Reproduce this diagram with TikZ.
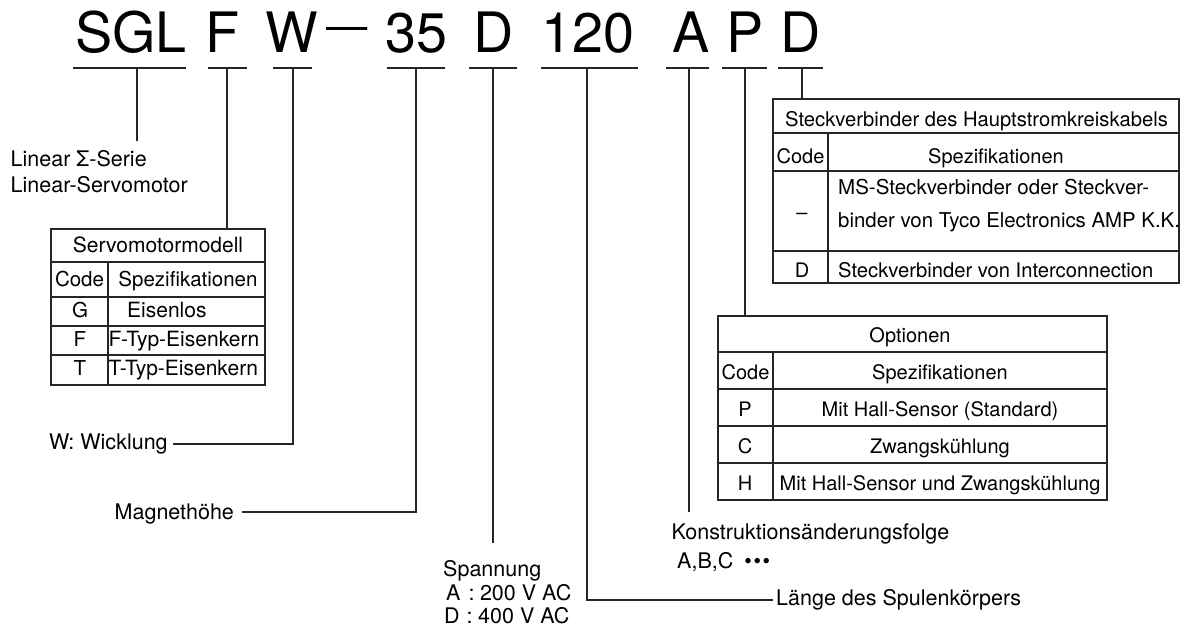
\documentclass[tikz,border=0pt]{standalone}
\usepackage{fontspec}
\setmainfont{TeX Gyre Heros}
\usepackage{graphicx}
\begin{document}
\begin{tikzpicture}[x=1pt,y=-1pt,
  ttl/.style={font=\fontsize{55.7pt}{60pt}\selectfont, inner sep=0pt, anchor=base},
  tb/.style={font=\fontsize{20pt}{24pt}\selectfont, inner sep=0pt, anchor=base},
  tbw/.style={tb, anchor=base west},
  tbl/.style={font=\fontsize{21pt}{25pt}\selectfont},
  tbm/.style={font=\fontsize{20.5pt}{25pt}\selectfont},
  lbl/.style={font=\fontsize{21.5pt}{25pt}\selectfont, inner sep=0pt, anchor=base west},
  ln/.style={line width=1.1pt, draw=black!85}]
\useasboundingbox (0,0) rectangle (1180,628);

% ---------- title ----------
\node[ttl] (cSGL) at (131,53) {SGL};
\node[ttl] (cF)   at (223,53) {F};
\node[ttl] (cW)   at (292,53) {W};
\node[ttl] (cdash) at (347.5,53) {\raisebox{12.5pt}{\scalebox{0.74}[0.75]{—}}};
\node[ttl] (c35)  at (416,53) {35};
\node[ttl] (cD)   at (494,53) {D};
\node[ttl] (c120) at (588,53) {120};
\node[ttl] (cA)   at (691,53) {A};
\node[ttl] (cP)   at (745,53) {P};
\node[ttl] (cD2)  at (801,53) {D};

% ---------- underlines and their tick points ----------
\coordinate (uSGL) at (137,68);
\coordinate (uF)   at (227,68);
\coordinate (uW)   at (293,68);
\coordinate (u35)  at (416,68);
\coordinate (uD)   at (493,68);
\coordinate (u120) at (587,68);
\coordinate (uA)   at (689,68);
\coordinate (uP)   at (745,68);
\coordinate (uD2)  at (802,68);
\draw[ln] (73,68) -- (186,68);
\draw[ln] (208,68) -- (247,68);
\draw[ln] (273,68) -- (312,68);
\draw[ln] (387,68) -- (445,68);
\draw[ln] (469,68) -- (517,68);
\draw[ln] (541,68) -- (638,68);
\draw[ln] (666,68) -- (709,68);
\draw[ln] (722,68) -- (767,68);
\draw[ln] (778,68) -- (823,68);

% ---------- Linear Sigma ----------
\coordinate (eSGL) at (137,141);
\draw[ln] (uSGL) -- (eSGL);
\node[lbl] (lin1) at (10.5,167) {Linear Σ-Serie};
\node[lbl] (lin2) at (10.5,193) {Linear-Servomotor};

% ---------- Servomotormodell table ----------
\coordinate (tabFtop) at (227,229);
\draw[ln] (uF) -- (tabFtop);
\draw[ln] (51,229) rectangle (265,385);
\draw[ln] (51,262) -- (265,262);
\draw[ln] (51,297) -- (265,297);
\draw[ln] (51,326) -- (265,326);
\draw[ln] (51,355) -- (265,355);
\draw[ln] (108,262) -- (108,385);
\node[tb,tbl] (smh) at (158,253) {Servomotormodell};
\node[tb,tbm] (smc) at (79.5,287) {Code};
\node[tb,tbm] (sms) at (188,287) {Spezifikationen};
\node[tb,tbm] (smG) at (80,317) {G};
\node[tbw,tbl] (smGt) at (127,317) {Eisenlos};
\node[tb,tbm] (smF) at (80,346) {F};
\node[tbw,tbl] (smFt) at (108.3,346) {F-Typ-Eisenkern};
\node[tb,tbm] (smT) at (80,375) {T};
\node[tbw,tbl] (smTt) at (108.3,375) {T-Typ-Eisenkern};

% ---------- W: Wicklung ----------
\node[lbl] (wick) at (49,449) {W: Wicklung};
\coordinate (wc) at (293,444);
\coordinate (we) at (173,444);
\draw[ln] (uW) -- (wc) -- (we);

% ---------- Magnethoehe ----------
\node[lbl] (mag) at (114.5,519) {Magnethöhe};
\coordinate (mc) at (416,512);
\coordinate (me) at (242,512);
\draw[ln] (u35) -- (mc) -- (me);

% ---------- Spannung ----------
\coordinate (sEnd) at (493,543);
\draw[ln] (uD) -- (sEnd);
\node[lbl] (sp1) at (443,576) {Spannung};
\node[lbl] (sp2) at (446,600) {A\hspace{8pt}:\hspace{5.5pt}200 V AC};
\node[lbl] (sp3) at (444,623) {D\hspace{7pt}:\hspace{5.5pt}400 V AC};

% ---------- Laenge ----------
\coordinate (lc) at (587,600);
\coordinate (le) at (773,600);
\draw[ln] (u120) -- (lc) -- (le);
\node[lbl] (len) at (776,605) {Länge des Spulenkörpers};

% ---------- Konstruktion ----------
\coordinate (kEnd) at (689,512);
\draw[ln] (uA) -- (kEnd);
\node[lbl] (ko1) at (671.5,539) {Konstruktionsänderungsfolge};
\node[lbl] (ko2) at (677,568) {A,B,C\hspace{11pt}•\kern1.6pt•\kern1.6pt•};

% ---------- Optionen table ----------
\coordinate (tabPtop) at (745,316);
\draw[ln] (uP) -- (tabPtop);
\draw[ln] (718,316) rectangle (1107,500);
\draw[ln] (718,352) -- (1107,352);
\draw[ln] (718,389) -- (1107,389);
\draw[ln] (718,426) -- (1107,426);
\draw[ln] (718,463) -- (1107,463);
\draw[ln] (773,352) -- (773,500);
\node[tb] (oph) at (910,342) {Optionen};
\node[tb] (opc) at (745.5,379) {Code};
\node[tb] (ops) at (940,379) {Spezifikationen};
\node[tb] (opP) at (745,416) {P};
\node[tb] (opPt) at (940,416) {Mit Hall-Sensor (Standard)};
\node[tb] (opC) at (745,453) {C};
\node[tb] (opCt) at (940,453) {Zwangskühlung};
\node[tb] (opH) at (745,490) {H};
\node[tb] (opHt) at (940,490) {Mit Hall-Sensor und Zwangskühlung};

% ---------- Steckverbinder table ----------
\coordinate (tabDtop) at (802,99);
\draw[ln] (uD2) -- (tabDtop);
\draw[ln] (773,99) rectangle (1179,283);
\draw[ln] (773,133) -- (1179,133);
\draw[ln] (773,171) -- (1179,171);
\draw[ln] (773,251) -- (1179,251);
\draw[ln] (828,133) -- (828,283);
\node[tbw,font=\fontsize{20.2pt}{25pt}\selectfont] (svh) at (785,127) {Steckverbinder des Hauptstromkreiskabels};
\node[tb] (svc) at (800.5,164) {Code};
\node[tb] (svs) at (996,164) {Spezifikationen};
\node[tb, anchor=center] (svdash) at (802,216) {–};
\node[tbw,font=\fontsize{20.5pt}{25pt}\selectfont] (svm1) at (838,195) {MS-Steckverbinder oder Steckver-};
\node[tbw,font=\fontsize{20.4pt}{25pt}\selectfont] (svm2) at (838,228) {binder von Tyco Electronics AMP K.K.};
\node[tb] (svD) at (802,277) {D};
\node[tbw,font=\fontsize{20.2pt}{25pt}\selectfont] (svDt) at (838,277) {Steckverbinder von Interconnection};
\end{tikzpicture}
\end{document}
